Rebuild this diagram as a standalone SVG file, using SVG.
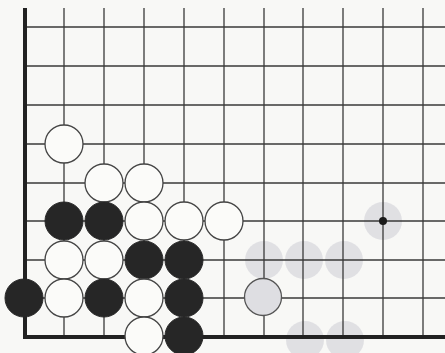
<svg xmlns="http://www.w3.org/2000/svg" width="445" height="353" viewBox="0 0 445 353">
<style>
.g{stroke:#3a3a3a;stroke-width:1.3;fill:none}
.e{stroke:#222;stroke-width:4;fill:none}
.w{fill:#fbfbf9;stroke:#444;stroke-width:1.3}
.b{fill:#262626;stroke:#262626;stroke-width:1}
.gr{fill:#dedee2;stroke:#555;stroke-width:1.3}
.gh{fill:#d6d6dc;opacity:0.7}
</style>
<rect width="445" height="353" fill="#f8f8f6"/>
<g id="ghosts">
<circle class="gh" cx="264" cy="260" r="19"/>
<circle class="gh" cx="304" cy="260" r="19"/>
<circle class="gh" cx="344" cy="260" r="19"/>
<circle class="gh" cx="383" cy="221" r="19"/>
<circle class="gh" cx="305" cy="340" r="19"/>
<circle class="gh" cx="345" cy="340" r="19"/>
</g>
<g id="connectors">
<path class="g" d="M64 8V337M104 8V337M144 8V337M184 8V337M224 8V337M264 8V337M303 8V337M343 8V337M383 8V337M423 8V337"/>
<path class="g" d="M25 27H445M25 66H445M25 105H445M25 144H445M25 183H445M25 221H445M25 260H445M25 298H445"/>
<path class="e" d="M25 8V337H445"/>
</g>
<g id="w1"><circle class="w" cx="64" cy="144" r="19"/></g>
<g id="w2"><circle class="w" cx="104" cy="183" r="19"/></g>
<g id="w3"><circle class="w" cx="144" cy="183" r="19"/></g>
<g id="b1"><circle class="b" cx="64" cy="221" r="19"/></g>
<g id="b2"><circle class="b" cx="104" cy="221" r="19"/></g>
<g id="w4"><circle class="w" cx="144" cy="221" r="19"/></g>
<g id="w5"><circle class="w" cx="184" cy="221" r="19"/></g>
<g id="w6"><circle class="w" cx="224" cy="221" r="19"/></g>
<g id="w7"><circle class="w" cx="64" cy="260" r="19"/></g>
<g id="w8"><circle class="w" cx="104" cy="260" r="19"/></g>
<g id="b3"><circle class="b" cx="144" cy="260" r="19"/></g>
<g id="b4"><circle class="b" cx="184" cy="260" r="19"/></g>
<g id="b5"><circle class="b" cx="24" cy="298" r="19"/></g>
<g id="w9"><circle class="w" cx="64" cy="298" r="19"/></g>
<g id="b6"><circle class="b" cx="104" cy="298" r="19"/></g>
<g id="w10"><circle class="w" cx="144" cy="298" r="19"/></g>
<g id="b7"><circle class="b" cx="184" cy="298" r="19"/></g>
<g id="g1"><circle class="gr" cx="263" cy="297" r="18.5"/></g>
<g id="w11"><circle class="w" cx="144" cy="336" r="19"/></g>
<g id="b8"><circle class="b" cx="184" cy="336" r="19"/></g>
<g id="dot"><circle fill="#1a1a1a" cx="383" cy="221" r="4"/></g>
</svg>
